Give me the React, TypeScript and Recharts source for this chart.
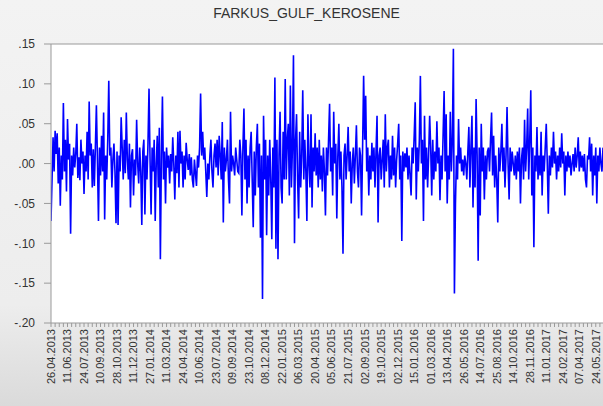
import {
  LineChart,
  Line,
  XAxis,
  YAxis,
  CartesianGrid,
  ReferenceLine,
} from "recharts";

// daily log returns (one point ~ every other trading day)
const y2013 = [
  -0.072, -0.02, 0.033, -0.01, 0.041, 0.012, 0.038, -0.025, 0.02, -0.053, 0.01, -0.02, 0.076, -0.01, 0.03, -0.035,
  0.056, 0.005, 0.025, -0.088, 0.01, -0.015, 0.02, -0.005, 0.012, 0.05, -0.018, 0.008, -0.021, 0.03, 0.0, 0.015,
  -0.038, 0.01, -0.01, 0.04, -0.02, 0.078, 0.01, 0.025, -0.03, 0.018, -0.028, 0.02, 0.073, 0.005, -0.072, 0.02,
  -0.015, 0.035, -0.01, 0.064, -0.07, 0.01, -0.02, 0.03, 0.104, 0.01, 0.02, -0.03, 0.005, 0.025, -0.01, -0.075,
  0.015, -0.077, 0.01, -0.01, 0.058, 0.02, -0.02, 0.03, -0.012, 0.064, 0.005, -0.02, 0.025, -0.055, 0.01, 0.018,
  -0.04, 0.005, -0.015, 0.055, 0.0, -0.025, 0.02,
];

const y2014 = [
  -0.01, -0.077, 0.015, 0.03, -0.064, 0.01, -0.02, 0.025, 0.094, 0.005, -0.064, 0.02, -0.01, 0.03, -0.072, 0.0,
  0.035, -0.03, 0.045, -0.12, 0.01, 0.084, -0.02, 0.015, -0.05, 0.02, -0.005, 0.01, -0.025, 0.012, -0.01, 0.033,
  0.0, -0.045, 0.01, -0.012, 0.04, -0.03, 0.041, 0.0, 0.015, -0.03, 0.01, -0.02, 0.026, 0.005, -0.008, 0.012,
  -0.015, 0.008, -0.02, -0.03, 0.005, -0.012, -0.028, 0.01, -0.005, 0.02, 0.088, 0.01, 0.04, 0.005, 0.02, -0.01,
  -0.042, 0.0, -0.02, 0.01, 0.03, -0.01, -0.03, 0.01, 0.025, -0.005, 0.03, -0.015, 0.035, 0.01, -0.02, 0.052,
  -0.074, 0.02, -0.01, 0.005, 0.03, -0.02, -0.05, 0.065, -0.01, 0.01, 0.0, -0.015, 0.02, 0.005, -0.01, -0.012,
  0.03, 0.01, -0.065, 0.02, 0.069, -0.02, 0.03, -0.05, 0.01, -0.03, 0.02, 0.04, -0.02, -0.08, 0.015, -0.04,
  0.02, 0.05, -0.03, 0.025, -0.093, 0.01, -0.17, 0.06, -0.02, 0.03, -0.09, 0.01, -0.04, 0.03, -0.02, -0.095,
];

const y2015 = [
  0.02, -0.03, 0.108, -0.107, 0.03, -0.12, 0.01, 0.065, -0.03, -0.05, 0.04, -0.02, 0.106, -0.02, 0.03, 0.05,
  -0.04, 0.098, -0.03, 0.02, 0.136, -0.1, 0.03, 0.062, -0.02, -0.069, 0.04, -0.03, 0.01, 0.092, -0.02, 0.03,
  -0.01, -0.072, 0.062, 0.0, -0.03, 0.062, -0.055, 0.02, -0.01, 0.038, -0.015, 0.02, -0.03, 0.03, -0.02, 0.01,
  -0.035, 0.02, -0.01, -0.065, 0.02, -0.015, 0.03, 0.075, -0.01, 0.02, -0.04, 0.065, 0.0, 0.025, -0.069, 0.01,
  0.05, -0.02, 0.015, -0.03, -0.113, 0.01, 0.025, -0.02, 0.01, 0.046, -0.01, 0.015, -0.05, 0.0, 0.02, -0.025,
  0.01, 0.048, -0.01, -0.03, 0.02, 0.01, -0.065, 0.02, 0.11, 0.03, 0.085, -0.01, 0.02, -0.04, 0.01, -0.02,
  0.026, -0.01, 0.02, -0.03, 0.015, 0.06, -0.074, 0.01, 0.02, -0.02, 0.005, 0.03, -0.03, 0.062, -0.01, 0.02,
  0.03, -0.03, 0.01, -0.02, 0.035, -0.015, 0.02, -0.03, 0.005, 0.025, 0.05, -0.02, 0.01, -0.097, 0.015, -0.01,
  0.013,
];

const y2016 = [
  -0.005, 0.02, -0.02, 0.01, -0.015, -0.04, 0.02, 0.0, 0.035, 0.077, -0.045, 0.02, -0.01, 0.03, 0.11, 0.0,
  0.03, -0.072, 0.06, -0.02, 0.02, -0.03, 0.01, 0.06, 0.02, -0.04, 0.03, -0.02, 0.015, -0.01, 0.053, 0.0,
  0.02, -0.046, 0.01, -0.02, 0.035, 0.091, -0.01, 0.062, -0.05, 0.01, -0.02, 0.065, -0.01, 0.03, 0.144, -0.163,
  -0.05, 0.01, -0.02, 0.056, 0.0, 0.02, -0.01, 0.005, -0.015, 0.01, 0.0, -0.02, 0.015, 0.046, -0.03, 0.02,
  0.06, -0.055, 0.02, -0.03, 0.081, 0.01, -0.122, 0.02, -0.065, 0.05, -0.01, 0.02, -0.045, 0.01, -0.02, 0.015,
  0.02, -0.01, 0.03, 0.064, -0.015, 0.035, -0.03, 0.01, -0.02, -0.074, 0.02, -0.01, 0.015, 0.05, -0.01, 0.02,
  -0.03, 0.01, 0.071, 0.0, -0.045, 0.02, -0.01, 0.015, 0.0, -0.015, 0.01, -0.02, 0.015, -0.01, 0.02, -0.05,
  0.005, 0.02, -0.02, 0.055, -0.01, 0.02, 0.069, -0.02, 0.03, 0.092, -0.04, 0.02, -0.105, 0.01, -0.01, 0.046,
  -0.02, 0.01, -0.015,
];

const y2017 = [
  0.04, -0.04, 0.01, -0.01, 0.02, 0.05, 0.0, -0.063, 0.01, -0.015, 0.02, -0.005, 0.04, 0.0, 0.015, -0.02,
  0.01, -0.01, 0.02, -0.005, 0.038, 0.0, 0.015, -0.04, 0.01, -0.01, 0.015, -0.005, 0.01, -0.015, 0.0, 0.012,
  -0.01, 0.02, -0.005, 0.01, 0.033, -0.01, 0.015, -0.005, 0.01, -0.01, 0.012, -0.02, -0.03, 0.01, 0.005, 0.033,
  -0.01, 0.025, -0.04, 0.01, -0.015, 0.02, -0.05, 0.01, -0.01, 0.02, 0.0, -0.01, 0.02,
];

// date labels, one every 16 points
const dateLabels = [
  "26.04.2013", "11.06.2013", "24.07.2013", "10.09.2013", "28.10.2013", "11.12.2013",
  "27.01.2014", "11.03.2014", "24.04.2014", "10.06.2014", "23.07.2014", "09.09.2014",
  "23.10.2014", "08.12.2014", "22.01.2015", "06.03.2015", "20.04.2015", "05.06.2015",
  "21.07.2015", "02.09.2015", "19.10.2015", "02.12.2015", "15.01.2016", "01.03.2016",
  "13.04.2016", "26.05.2016", "14.07.2016", "25.08.2016", "14.10.2016", "28.11.2016",
  "11.01.2017", "24.02.2017", "07.04.2017", "24.05.2017",
];

const yTicks = [-0.2, -0.15, -0.1, -0.05, 0, 0.05, 0.1, 0.15];

const values = [...y2013, ...y2014, ...y2015, ...y2016, ...y2017];
const data = values.map((v, i) => ({ i, v }));
const last = values.length - 1;

const xTicks: number[] = [];
for (let t = 0; t <= last; t += 4) xTicks.push(t);

const fmtY = (v: number) => v.toFixed(2).replace("0.", ".");

const DateTick = (props: any) => {
  const { x, y, payload } = props;
  const i = payload.value;
  if (i % 16 !== 0) return null;
  const label = dateLabels[i / 16];
  if (!label) return null;
  return (
    <text
      x={x}
      y={y}
      transform={`rotate(-90, ${x}, ${y})`}
      textAnchor="end"
      dy="0.35em"
      fontSize={11}
      fill="#333"
      fontFamily="Arial, 'Liberation Sans', sans-serif"
    >
      {label}
    </text>
  );
};

export default function App() {
  return (
    <div
      style={{
        position: "absolute",
        left: 0,
        top: 0,
        width: 603,
        height: 406,
        overflow: "hidden",
        background: "linear-gradient(to bottom, #f3f3f3 0%, #ededed 75%, #dadada 100%)",
        fontFamily: "Arial, 'Liberation Sans', sans-serif",
      }}
    >
      <div
        style={{
          position: "absolute",
          top: 5,
          left: 10,
          right: 0,
          textAlign: "center",
          fontSize: 14,
          color: "#333",
        }}
      >
        FARKUS_GULF_KEROSENE
      </div>
      <LineChart
        width={603}
        height={406}
        data={data}
        margin={{ top: 44, right: 0, bottom: 0, left: 0 }}
      >
        <CartesianGrid horizontal={false} vertical={false} fill="#fff" fillOpacity={1} />
        <ReferenceLine y={0.15} stroke="#9a9a9a" />
        <XAxis
          dataKey="i"
          type="number"
          domain={[0, last]}
          ticks={xTicks}
          interval={0}
          height={83}
          tickSize={4}
          tickMargin={2}
          stroke="#9a9a9a"
          tick={<DateTick />}
          allowDataOverflow
        />
        <YAxis
          type="number"
          domain={[-0.2, 0.15]}
          ticks={yTicks}
          interval={0}
          width={51}
          tickSize={7}
          tickMargin={9}
          stroke="#9a9a9a"
          tickFormatter={fmtY}
          tick={{ fill: "#333", fontSize: 12 }}
          allowDataOverflow
        />
        <Line
          type="linear"
          dataKey="v"
          stroke="#0000ff"
          strokeWidth={1.6}
          dot={false}
          isAnimationActive={false}
        />
      </LineChart>
    </div>
  );
}
